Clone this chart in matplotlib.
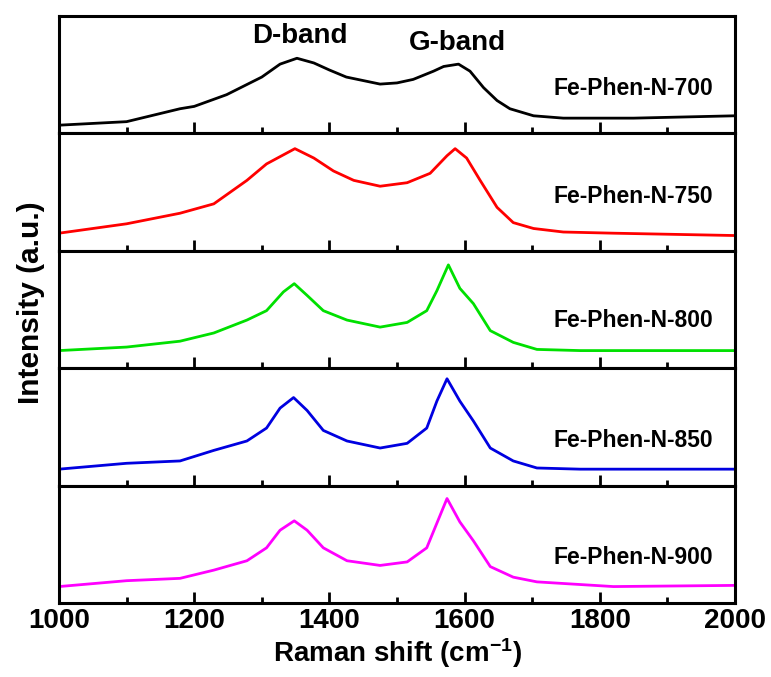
import matplotlib
matplotlib.use("Agg")
import matplotlib.pyplot as plt
from matplotlib.ticker import MultipleLocator

plt.rcParams['font.family'] = ['Liberation Sans', 'DejaVu Sans']
plt.rcParams['font.weight'] = 'bold'
plt.rcParams['mathtext.fontset'] = 'custom'
plt.rcParams['mathtext.rm'] = 'Liberation Sans:bold'
plt.rcParams['mathtext.default'] = 'rm'

# Raman spectra (normalised intensity per panel, a.u.)
shift_700 = [1000, 1100, 1179, 1200, 1248, 1300, 1327, 1352, 1377, 1400, 1425, 1450,
             1475, 1500, 1524, 1554, 1569, 1591, 1608, 1628, 1648, 1667, 1702, 1746,
             1850, 2000]
int_700 = [0.07, 0.10, 0.21, 0.23, 0.33, 0.48, 0.59, 0.64, 0.60, 0.54, 0.48, 0.45,
           0.42, 0.43, 0.46, 0.53, 0.57, 0.59, 0.53, 0.39, 0.28, 0.21, 0.15, 0.13,
           0.13, 0.15]

shift_750 = [1000, 1100, 1179, 1229, 1278, 1307, 1349, 1377, 1406, 1436, 1475, 1515,
             1549, 1574, 1586, 1603, 1623, 1648, 1672, 1702, 1746, 1820, 2000]
int_750 = [0.15, 0.23, 0.32, 0.40, 0.60, 0.74, 0.87, 0.79, 0.68, 0.60, 0.55, 0.58,
           0.66, 0.81, 0.87, 0.79, 0.60, 0.37, 0.24, 0.19, 0.16, 0.15, 0.13]

shift_800 = [1000, 1100, 1179, 1229, 1278, 1307, 1332, 1348, 1367, 1391, 1426, 1475,
             1515, 1544, 1559, 1576, 1593, 1613, 1638, 1672, 1707, 1771, 2000]
int_800 = [0.15, 0.18, 0.23, 0.30, 0.41, 0.49, 0.65, 0.72, 0.62, 0.49, 0.41, 0.35,
           0.39, 0.49, 0.66, 0.88, 0.68, 0.55, 0.32, 0.22, 0.16, 0.15, 0.15]

shift_850 = [1000, 1100, 1179, 1229, 1278, 1307, 1327, 1347, 1367, 1391, 1426, 1475,
             1515, 1544, 1559, 1574, 1593, 1613, 1638, 1672, 1707, 1771, 2000]
int_850 = [0.14, 0.19, 0.21, 0.30, 0.38, 0.49, 0.66, 0.75, 0.64, 0.47, 0.38, 0.32,
           0.36, 0.49, 0.72, 0.91, 0.72, 0.55, 0.32, 0.21, 0.15, 0.14, 0.14]

shift_900 = [1000, 1100, 1179, 1229, 1278, 1307, 1327, 1348, 1367, 1391, 1426, 1475,
             1515, 1544, 1559, 1574, 1593, 1613, 1638, 1672, 1707, 1820, 2000]
int_900 = [0.14, 0.19, 0.21, 0.28, 0.36, 0.47, 0.62, 0.70, 0.62, 0.47, 0.36, 0.32,
           0.35, 0.47, 0.68, 0.89, 0.69, 0.53, 0.31, 0.22, 0.18, 0.14, 0.15]

samples = ['Fe-Phen-N-700', 'Fe-Phen-N-750', 'Fe-Phen-N-800', 'Fe-Phen-N-850', 'Fe-Phen-N-900']
shifts = [shift_700, shift_750, shift_800, shift_850, shift_900]
intensities = [int_700, int_750, int_800, int_850, int_900]
colors = ['#000000', '#ff0000', '#00e000', '#0000e0', '#ff00ff']
label_y = [0.38, 0.46, 0.41, 0.38, 0.39]

fig, axes = plt.subplots(5, 1, figsize=(7.71, 6.77), dpi=100, sharex=True)
fig.subplots_adjust(left=59/771, right=735/771, top=1-16/677, bottom=1-603/677, hspace=0)

for ax, x, y, c, name, ly in zip(axes, shifts, intensities, colors, samples, label_y):
    ax.plot(x, y, color=c, lw=2.0, solid_joinstyle='round')
    ax.set_xlim(1000, 2000)
    ax.set_ylim(0, 1)
    ax.set_yticks([])
    ax.xaxis.set_major_locator(MultipleLocator(200))
    ax.xaxis.set_minor_locator(MultipleLocator(100))
    ax.tick_params(axis='x', which='major', direction='in', length=8, width=2, labelsize=20)
    ax.tick_params(axis='x', which='minor', direction='in', length=4, width=2)
    for sp in ax.spines.values():
        sp.set_linewidth(2.2)
    ax.text(1968, ly, name, ha='right', va='center', fontsize=16.5, fontweight='bold')

axes[0].text(1356, 0.83, 'D-band', ha='center', va='center', fontsize=20, fontweight='bold')
axes[0].text(1589, 0.77, 'G-band', ha='center', va='center', fontsize=20, fontweight='bold')

axes[-1].set_xlabel('Raman shift (cm$^{-1}$)', fontsize=20, fontweight='bold', labelpad=2)
fig.text(0.04, (677-303)/677, 'Intensity (a.u.)', rotation=90, ha='center', va='center',
         fontsize=21.5, fontweight='bold')

fig.savefig('out.png', dpi=100)
